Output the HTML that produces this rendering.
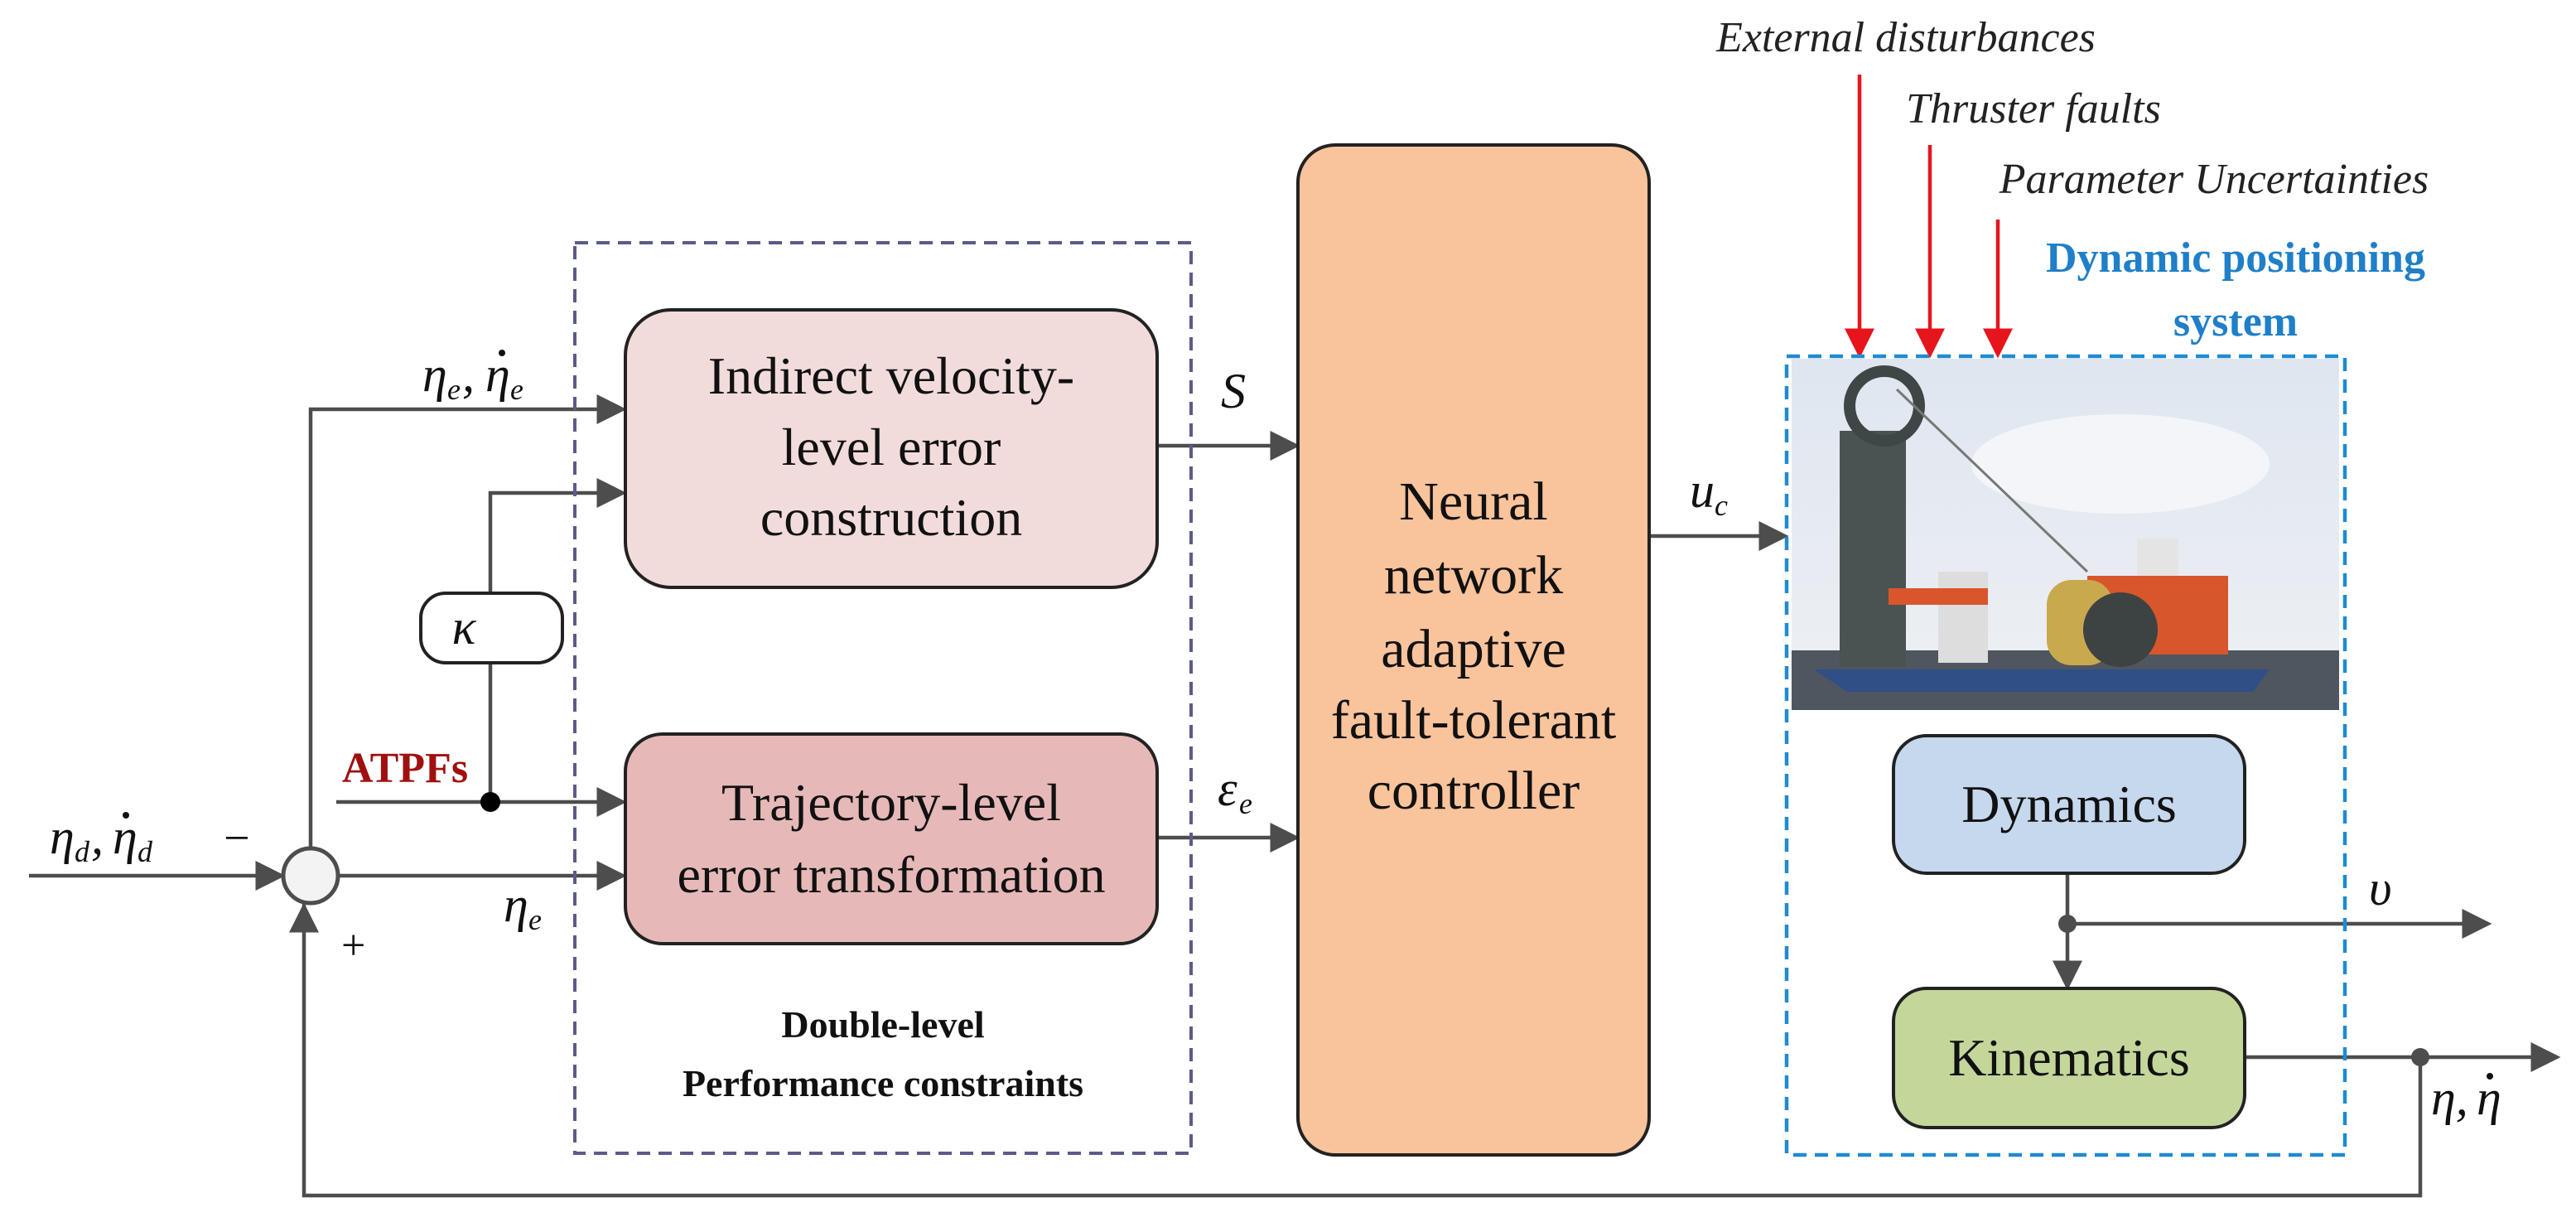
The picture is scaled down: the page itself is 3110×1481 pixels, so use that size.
<!DOCTYPE html>
<html><head><meta charset="utf-8"><style>
html,body{margin:0;padding:0;background:#fff}
svg{display:block}
text{font-family:"Liberation Serif",serif}
</style></head><body>
<svg width="3110" height="1481" viewBox="0 0 3110 1481" xmlns="http://www.w3.org/2000/svg">
<defs>
<marker id="a" markerWidth="8" markerHeight="8" refX="7" refY="4" orient="auto" markerUnits="strokeWidth">
<path d="M0,0 L8,4 L0,8 Z" fill="#4d4d4d"/></marker>
<marker id="r" markerWidth="8" markerHeight="8" refX="7" refY="4" orient="auto" markerUnits="strokeWidth">
<path d="M0,0 L8,4 L0,8 Z" fill="#e8141c"/></marker>
<linearGradient id="sky" x1="0" y1="0" x2="0" y2="1"><stop offset="0" stop-color="#dfe6f0"/><stop offset="1" stop-color="#eef0f3"/></linearGradient>
</defs>
<g stroke="#4d4d4d" stroke-width="4.5" fill="none">
<line x1="35" y1="1057" x2="340" y2="1057" marker-end="url(#a)"/>
<polyline points="2922,1276 2922,1443 367,1443 367,1091" />
<line x1="367" y1="1110" x2="367" y2="1094" marker-end="url(#a)"/>
<polyline points="375,1024 375,494 752,494" marker-end="url(#a)"/>
<polyline points="592,716 592,595 752,595" marker-end="url(#a)"/>
<line x1="592" y1="800" x2="592" y2="968"/>
<line x1="406" y1="968" x2="752" y2="968" marker-end="url(#a)"/>
<line x1="408" y1="1057" x2="752" y2="1057" marker-end="url(#a)"/>
<line x1="1397" y1="538" x2="1565" y2="538" marker-end="url(#a)"/>
<line x1="1397" y1="1011" x2="1565" y2="1011" marker-end="url(#a)"/>
<line x1="1991" y1="647" x2="2155" y2="647" marker-end="url(#a)"/>
<line x1="2496" y1="1054" x2="2496" y2="1191" marker-end="url(#a)"/>
<line x1="2496" y1="1115" x2="3004" y2="1115" marker-end="url(#a)"/>
<line x1="2710" y1="1276" x2="3087" y2="1276" marker-end="url(#a)"/>
</g>
<circle cx="375" cy="1057" r="33" fill="#f3f3f3" stroke="#4d4d4d" stroke-width="5"/>
<circle cx="592" cy="968" r="12" fill="#000"/>
<circle cx="2496" cy="1115" r="11" fill="#4d4d4d"/>
<circle cx="2922" cy="1276" r="11" fill="#4d4d4d"/>
<rect x="694" y="293" width="744" height="1099" fill="none" stroke="#5b5b8a" stroke-width="4" stroke-dasharray="16,10"/>
<g stroke="#e8141c" stroke-width="4.5">
<line x1="2245" y1="90" x2="2245" y2="428" marker-end="url(#r)"/>
<line x1="2330" y1="175" x2="2330" y2="428" marker-end="url(#r)"/>
<line x1="2412" y1="265" x2="2412" y2="428" marker-end="url(#r)"/>
</g>
<g>
<rect x="2163" y="433" width="661" height="424" fill="url(#sky)"/>
<ellipse cx="2560" cy="560" rx="180" ry="60" fill="#f4f5f8"/>
<rect x="2163" y="785" width="661" height="72" fill="#4f5660"/>
<path d="M2190,808 L2740,808 L2720,835 L2230,835 Z" fill="#2f4f86"/>
<rect x="2221" y="520" width="80" height="285" fill="#4a5252"/>
<circle cx="2275" cy="490" r="42" fill="none" stroke="#3f4646" stroke-width="14"/>
<line x1="2290" y1="470" x2="2520" y2="690" stroke="#777" stroke-width="3"/>
<rect x="2340" y="690" width="60" height="110" fill="#ddd"/>
<rect x="2280" y="710" width="120" height="20" fill="#d9562d"/>
<rect x="2520" y="695" width="170" height="95" fill="#d8562b"/>
<rect x="2471" y="700" width="80" height="103" rx="30" fill="#c9a94e"/>
<circle cx="2560" cy="760" r="45" fill="#3d4242"/>
<rect x="2580" y="650" width="50" height="45" fill="#e4e4e4"/>
</g>
<rect x="2157" y="430" width="674" height="964" fill="none" stroke="#1f8bd2" stroke-width="4.5" stroke-dasharray="16,10"/>
<rect x="755" y="374" width="642" height="335" rx="55" fill="#f2dcdb" stroke="#222" stroke-width="4"/>
<rect x="755" y="886" width="642" height="253" rx="45" fill="#e6b9b8" stroke="#222" stroke-width="4"/>
<rect x="508" y="716" width="171" height="84" rx="30" fill="#fff" stroke="#222" stroke-width="4"/>
<rect x="1567" y="175" width="424" height="1219" rx="45" fill="#f9c39c" stroke="#222" stroke-width="4"/>
<rect x="2286" y="888" width="424" height="166" rx="40" fill="#c6d8ee" stroke="#222" stroke-width="4"/>
<rect x="2286" y="1193" width="424" height="168" rx="40" fill="#c4d79b" stroke="#222" stroke-width="4"/>
<g font-size="64" text-anchor="middle" fill="#111">
<text x="1076" y="475">Indirect velocity-</text>
<text x="1076" y="561">level error</text>
<text x="1076" y="646">construction</text>
<text x="1076" y="990">Trajectory-level</text>
<text x="1076" y="1077">error transformation</text>
<text x="1779" y="627" font-size="66">Neural</text>
<text x="1779" y="716" font-size="66">network</text>
<text x="1779" y="805" font-size="66">adaptive</text>
<text x="1779" y="891" font-size="66">fault-tolerant</text>
<text x="1779" y="976" font-size="66">controller</text>
<text x="2498" y="992">Dynamics</text>
<text x="2498" y="1298">Kinematics</text>
</g>
<g font-size="46" font-weight="bold" text-anchor="middle" fill="#111">
<text x="1066" y="1252">Double-level</text>
<text x="1066" y="1323">Performance constraints</text>
</g>
<text x="489" y="944" font-size="52" font-weight="bold" fill="#a01010" text-anchor="middle">ATPFs</text>
<g font-size="52" font-weight="bold" fill="#1f7fc8" text-anchor="middle">
<text x="2699" y="328">Dynamic positioning</text>
<text x="2699" y="405">system</text>
</g>
<g font-size="52" font-style="italic" fill="#222" text-anchor="middle">
<text x="2301" y="62">External disturbances</text>
<text x="2455" y="148">Thruster faults</text>
<text x="2673" y="233">Parameter Uncertainties</text>
</g>
<g font-size="60" font-style="italic" fill="#111">
<text x="510" y="472">η</text><text x="540" y="482" font-size="36">e</text><text x="558" y="472">,</text>
<text x="586" y="472">η</text><text x="616" y="482" font-size="36">e</text>
<text x="60" y="1030">η</text><text x="90" y="1040" font-size="36">d</text><text x="110" y="1030">,</text>
<text x="136" y="1030">η</text><text x="166" y="1040" font-size="36">d</text>
<text x="608" y="1112">η</text><text x="638" y="1122" font-size="36">e</text>
<text x="1474" y="492">S</text>
<text x="1470" y="972">ε</text><text x="1496" y="982" font-size="36">e</text>
<text x="2040" y="612">u</text><text x="2070" y="622" font-size="36">c</text>
<text x="2860" y="1092">υ</text>
<text x="2935" y="1345">η,</text><text x="2990" y="1345">η</text>
<text x="560" y="777" text-anchor="middle">κ</text>
</g>
<g fill="#111">
<circle cx="606" cy="426" r="4"/>
<circle cx="152" cy="984" r="4"/>
<circle cx="3006" cy="1299" r="4"/>
</g>
<text x="270" y="1030" font-size="56" fill="#111" font-family="Liberation Sans">−</text>
<text x="412" y="1158" font-size="52" fill="#111" font-family="Liberation Sans">+</text>
</svg>
</body></html>
